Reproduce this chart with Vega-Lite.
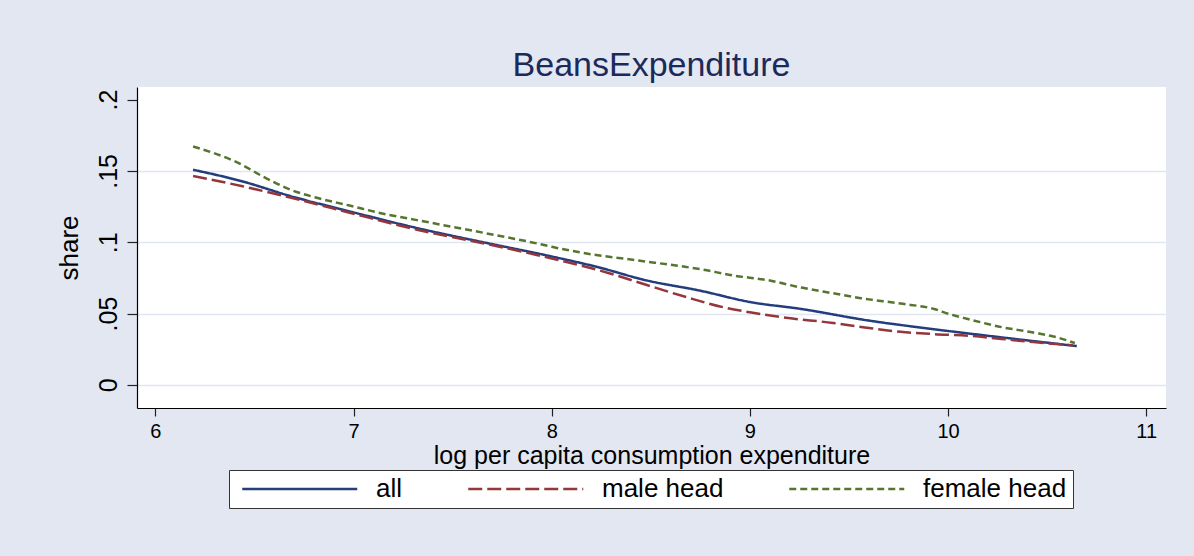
{
  "$schema": "https://vega.github.io/schema/vega-lite/v6.json",
  "autosize": {"type": "none"},
  "padding": {"left": 137, "top": 87, "right": 28, "bottom": 148},
  "width": 1029,
  "height": 321,
  "background": "#e2e7f1",
  "title": {
    "text": "BeansExpenditure",
    "font": "Liberation Sans",
    "fontSize": 34,
    "fontWeight": "normal",
    "color": "#1b2a5a",
    "anchor": "middle",
    "offset": 4
  },
  "config": {
    "view": {"stroke": null, "fill": "white"},
    "font": "Liberation Sans",
    "axis": {
      "domainColor": "#000000",
      "domainWidth": 1.2,
      "tickColor": "#222222",
      "tickWidth": 1.2,
      "labelColor": "#000000",
      "titleColor": "#000000",
      "labelFont": "Liberation Sans",
      "titleFont": "Liberation Sans",
      "titleFontWeight": "normal"
    },
    "legend": {
      "labelFont": "Liberation Sans"
    }
  },
  "data": {
    "values": [
      {"x": 6.19, "share": 0.1508, "group": "all"},
      {"x": 6.44, "share": 0.1426, "group": "all"},
      {"x": 6.68, "share": 0.1324, "group": "all"},
      {"x": 6.98, "share": 0.1216, "group": "all"},
      {"x": 7.32, "share": 0.1099, "group": "all"},
      {"x": 7.66, "share": 0.0998, "group": "all"},
      {"x": 8.0, "share": 0.0900, "group": "all"},
      {"x": 8.22, "share": 0.0830, "group": "all"},
      {"x": 8.48, "share": 0.0732, "group": "all"},
      {"x": 8.75, "share": 0.0660, "group": "all"},
      {"x": 9.0, "share": 0.0581, "group": "all"},
      {"x": 9.26, "share": 0.0532, "group": "all"},
      {"x": 9.59, "share": 0.0453, "group": "all"},
      {"x": 9.93, "share": 0.0390, "group": "all"},
      {"x": 10.27, "share": 0.0333, "group": "all"},
      {"x": 10.65, "share": 0.0272, "group": "all"},

      {"x": 6.19, "share": 0.1464, "group": "male head"},
      {"x": 6.44, "share": 0.1392, "group": "male head"},
      {"x": 6.68, "share": 0.1313, "group": "male head"},
      {"x": 6.98, "share": 0.1207, "group": "male head"},
      {"x": 7.32, "share": 0.1088, "group": "male head"},
      {"x": 7.66, "share": 0.0991, "group": "male head"},
      {"x": 8.0, "share": 0.0886, "group": "male head"},
      {"x": 8.29, "share": 0.0783, "group": "male head"},
      {"x": 8.48, "share": 0.0700, "group": "male head"},
      {"x": 8.68, "share": 0.0615, "group": "male head"},
      {"x": 8.87, "share": 0.0543, "group": "male head"},
      {"x": 9.0, "share": 0.0509, "group": "male head"},
      {"x": 9.17, "share": 0.0473, "group": "male head"},
      {"x": 9.42, "share": 0.0434, "group": "male head"},
      {"x": 9.59, "share": 0.0401, "group": "male head"},
      {"x": 9.76, "share": 0.0372, "group": "male head"},
      {"x": 9.93, "share": 0.0356, "group": "male head"},
      {"x": 10.1, "share": 0.0345, "group": "male head"},
      {"x": 10.27, "share": 0.0322, "group": "male head"},
      {"x": 10.43, "share": 0.0300, "group": "male head"},
      {"x": 10.63, "share": 0.0277, "group": "male head"},

      {"x": 6.19, "share": 0.1671, "group": "female head"},
      {"x": 6.41, "share": 0.1561, "group": "female head"},
      {"x": 6.56, "share": 0.1448, "group": "female head"},
      {"x": 6.68, "share": 0.1369, "group": "female head"},
      {"x": 6.81, "share": 0.1313, "group": "female head"},
      {"x": 6.98, "share": 0.1257, "group": "female head"},
      {"x": 7.15, "share": 0.1200, "group": "female head"},
      {"x": 7.32, "share": 0.1155, "group": "female head"},
      {"x": 7.49, "share": 0.1110, "group": "female head"},
      {"x": 7.66, "share": 0.1065, "group": "female head"},
      {"x": 7.93, "share": 0.0990, "group": "female head"},
      {"x": 8.0, "share": 0.0968, "group": "female head"},
      {"x": 8.25, "share": 0.0905, "group": "female head"},
      {"x": 8.37, "share": 0.0884, "group": "female head"},
      {"x": 8.48, "share": 0.0864, "group": "female head"},
      {"x": 8.68, "share": 0.0826, "group": "female head"},
      {"x": 8.75, "share": 0.0811, "group": "female head"},
      {"x": 8.92, "share": 0.0766, "group": "female head"},
      {"x": 9.09, "share": 0.0734, "group": "female head"},
      {"x": 9.26, "share": 0.0682, "group": "female head"},
      {"x": 9.42, "share": 0.0642, "group": "female head"},
      {"x": 9.56, "share": 0.0608, "group": "female head"},
      {"x": 9.76, "share": 0.0570, "group": "female head"},
      {"x": 9.93, "share": 0.0532, "group": "female head"},
      {"x": 10.01, "share": 0.0495, "group": "female head"},
      {"x": 10.1, "share": 0.0462, "group": "female head"},
      {"x": 10.27, "share": 0.0405, "group": "female head"},
      {"x": 10.43, "share": 0.0367, "group": "female head"},
      {"x": 10.55, "share": 0.0333, "group": "female head"},
      {"x": 10.64, "share": 0.0293, "group": "female head"}
    ]
  },
  "mark": {"type": "line", "strokeWidth": 2.5, "interpolate": "monotone"},
  "encoding": {
    "x": {
      "field": "x",
      "type": "quantitative",
      "scale": {"domain": [5.907, 11.1], "nice": false, "zero": false},
      "axis": {
        "title": "log per capita consumption expenditure",
        "values": [6, 7, 8, 9, 10, 11],
        "grid": false,
        "tickSize": 8,
        "labelFontSize": 20,
        "labelPadding": 5,
        "titleFontSize": 25,
        "titlePadding": 2
      }
    },
    "y": {
      "field": "share",
      "type": "quantitative",
      "scale": {"domain": [-0.0162, 0.2088], "nice": false, "zero": false},
      "axis": {
        "title": "share",
        "values": [0, 0.05, 0.1, 0.15, 0.2],
        "labelExpr": "datum.value == 0 ? '0' : replace(format(datum.value, '~g'), '0.', '.')",
        "grid": true,
        "gridColor": "#dfe5f1",
        "gridWidth": 1.6,
        "gridOpacity": {"condition": {"test": "datum.value > 0.19", "value": 0}, "value": 1},
        "tickSize": 10,
        "labelAngle": -90,
        "labelAlign": "center",
        "labelBaseline": "alphabetic",
        "labelFontSize": 25,
        "labelPadding": 11,
        "titleFontSize": 26,
        "titlePadding": 14
      }
    },
    "color": {
      "field": "group",
      "type": "nominal",
      "sort": ["all", "male head", "female head"],
      "scale": {"domain": ["all", "male head", "female head"], "range": ["#233d7d", "#94363c", "#56752f"]},
      "legend": {
        "title": null,
        "orient": "none",
        "legendX": 92,
        "legendY": 383,
        "direction": "horizontal",
        "symbolType": "M-0.5,0H9.5",
        "symbolSize": 529,
        "symbolStrokeWidth": 2.5,
        "labelFontSize": 26,
        "labelColor": "#000000",
        "labelOffset": 115,
        "columnPadding": 58,
        "fillColor": "white",
        "strokeColor": "#333333",
        "padding": 6
      }
    },
    "strokeDash": {
      "field": "group",
      "type": "nominal",
      "sort": ["all", "male head", "female head"],
      "scale": {"domain": ["all", "male head", "female head"], "range": [[1, 0], [14, 5], [7, 4]]},
      "legend": {
        "title": null,
        "orient": "none",
        "legendX": 92,
        "legendY": 383,
        "direction": "horizontal",
        "symbolType": "M-0.5,0H9.5",
        "symbolSize": 529,
        "symbolStrokeWidth": 2.5,
        "labelFontSize": 26,
        "labelColor": "#000000",
        "labelOffset": 115,
        "columnPadding": 58,
        "fillColor": "white",
        "strokeColor": "#333333",
        "padding": 6
      }
    }
  }
}
